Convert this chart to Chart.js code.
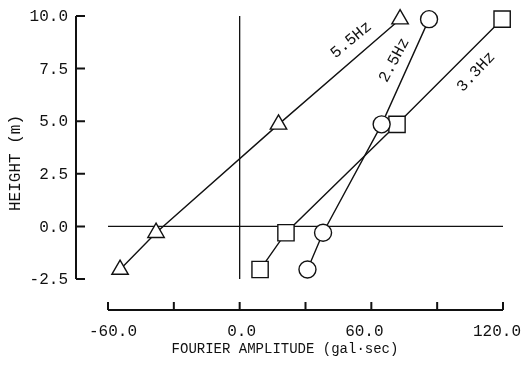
<!doctype html>
<html lang="en">
<head>
  <meta charset="utf-8">
  <title>Fourier amplitude vs height</title>
  <style>
    body { margin: 0; background: white; }
    #wrap { width: 522px; height: 368px; }
  </style>
</head>
<body>
  <div id="wrap"><canvas id="chart" width="522" height="368"></canvas></div>
  <script src="https://cdn.jsdelivr.net/npm/chart.js@4.4.0/dist/chart.umd.min.js"></script>
  <script>
    // heights of the measuring points (m)
    const heights = [-2.05, -0.3, 4.85, 9.85];

    // fourier amplitude (gal*sec) at each height
    const amp55 = [-54.5, -38.1, 17.7, 73.1];   // 5.5Hz, triangles
    const amp25 = [30.9, 38.0, 64.7, 86.3];     // 2.5Hz, circles
    const amp33 = [9.3, 21.1, 71.7, 119.6];     // 3.3Hz, squares

    const xTicks = [-60, -30, 0, 30, 60, 90, 120];
    const xTickLabels = ['-60.0', '', '0.0', '', '60.0', '', '120.0'];
    const yTicks = [-2.5, 0, 2.5, 5, 7.5, 10];
    const yTickLabels = ['-2.5', '0.0', '2.5', '5.0', '7.5', '10.0'];

    // curve labels: text, x value, y value, angle (deg)
    const curveNames = ['5.5Hz', '2.5Hz', '3.3Hz'];
    const nameX = [50.8, 70.4, 107.7];
    const nameY = [8.86, 7.9, 7.34];
    const nameAngle = [-40, -62, -47];

    const FONT = '"Liberation Mono", "DejaVu Sans Mono", monospace';

    function pts(xs) {
      return xs.map((x, i) => ({ x: x, y: heights[i] }));
    }

    const axesPlugin = {
      id: 'axesPlugin',
      beforeDatasetsDraw(chart) {
        const ctx = chart.ctx;
        const xs = chart.scales.x, ys = chart.scales.y;
        ctx.save();
        ctx.strokeStyle = '#111';
        ctx.lineWidth = 1.3;
        // zero lines
        ctx.beginPath();
        ctx.moveTo(xs.getPixelForValue(-60), ys.getPixelForValue(0));
        ctx.lineTo(xs.getPixelForValue(120), ys.getPixelForValue(0));
        ctx.moveTo(xs.getPixelForValue(0), ys.getPixelForValue(10));
        ctx.lineTo(xs.getPixelForValue(0), ys.getPixelForValue(-2.5));
        ctx.stroke();

        // y axis, pushed out to the left
        const ax = xs.getPixelForValue(-60) - 32;
        ctx.lineWidth = 2;
        ctx.beginPath();
        ctx.moveTo(ax, ys.getPixelForValue(10));
        ctx.lineTo(ax, ys.getPixelForValue(-2.5));
        yTicks.forEach(v => {
          const py = ys.getPixelForValue(v);
          ctx.moveTo(ax, py);
          ctx.lineTo(ax + 9, py);
        });
        ctx.stroke();
        ctx.fillStyle = '#111';
        ctx.font = '16px ' + FONT;
        ctx.textAlign = 'right';
        ctx.textBaseline = 'middle';
        yTicks.forEach((v, i) => {
          ctx.fillText(yTickLabels[i], ax - 8, ys.getPixelForValue(v) + 1);
        });

        // x axis, pushed down
        const ay = ys.getPixelForValue(-2.5) + 31;
        ctx.beginPath();
        ctx.moveTo(xs.getPixelForValue(-60), ay);
        ctx.lineTo(xs.getPixelForValue(120), ay);
        xTicks.forEach(v => {
          const px = xs.getPixelForValue(v);
          ctx.moveTo(px, ay);
          ctx.lineTo(px, ay - 8);
        });
        ctx.stroke();
        ctx.textAlign = 'center';
        const shift = [5, 0, 2, 0, -7, 0, -6];
        xTicks.forEach((v, i) => {
          ctx.fillText(xTickLabels[i], xs.getPixelForValue(v) + shift[i], ay + 22);
        });

        // axis titles
        ctx.font = '14px ' + FONT;
        ctx.fillText('FOURIER AMPLITUDE (gal\u00b7sec)', 285, ay + 39);
        ctx.save();
        ctx.font = '16px ' + FONT;
        ctx.translate(16, 163);
        ctx.rotate(-Math.PI / 2);
        ctx.fillText('HEIGHT (m)', 0, 0);
        ctx.restore();

        // curve names
        ctx.font = '16px ' + FONT;
        curveNames.forEach((t, i) => {
          ctx.save();
          ctx.translate(xs.getPixelForValue(nameX[i]), ys.getPixelForValue(nameY[i]));
          ctx.rotate(nameAngle[i] * Math.PI / 180);
          ctx.fillText(t, 0, 0);
          ctx.restore();
        });
        ctx.restore();
      }
    };

    function series(label, xs, style, radius) {
      return {
        label: label,
        data: pts(xs),
        showLine: true,
        borderColor: '#111',
        borderWidth: 1.4,
        pointStyle: style,
        pointRadius: radius,
        pointBackgroundColor: 'white',
        pointBorderColor: '#111',
        pointBorderWidth: 1.4,
        clip: false
      };
    }

    new Chart(document.getElementById('chart'), {
      type: 'scatter',
      data: {
        datasets: [
          series('5.5Hz', amp55, 'triangle', 9.5),
          series('2.5Hz', amp25, 'circle', 8.5),
          series('3.3Hz', amp33, 'rect', 11.5)
        ]
      },
      options: {
        responsive: false,
        animation: false,
        layout: { padding: { left: 108, right: 19, top: 16, bottom: 89 } },
        plugins: { legend: { display: false }, tooltip: { enabled: false } },
        scales: {
          x: { type: 'linear', min: -60, max: 120, display: false },
          y: { type: 'linear', min: -2.5, max: 10, display: false }
        }
      },
      plugins: [axesPlugin]
    });
  </script>
</body>
</html>
